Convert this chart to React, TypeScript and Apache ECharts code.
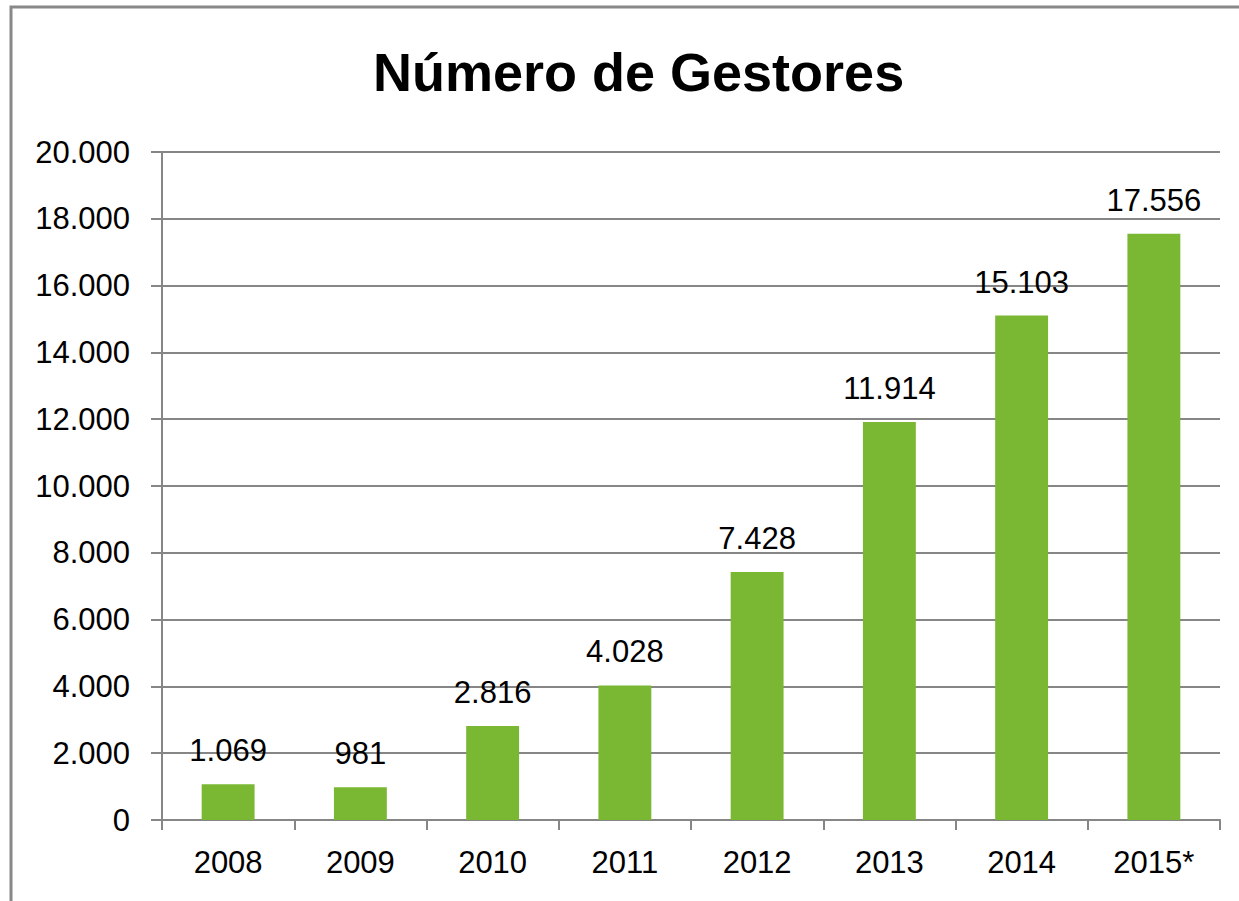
import React, { useEffect, useRef } from "react";
import * as echarts from "echarts";

const categories = ["2008", "2009", "2010", "2011", "2012", "2013", "2014", "2015*"];
const gestores = [1069, 981, 2816, 4028, 7428, 11914, 15103, 17556];
const titleText = "Número de Gestores";

const fmt = (v: number) => String(v).replace(/\B(?=(\d{3})+(?!\d))/g, ".");

export default function App() {
  const ref = useRef<HTMLDivElement>(null);
  useEffect(() => {
    document.body.style.margin = "0";
    const chart = echarts.init(ref.current!, null, { renderer: "svg" });
    const font = "'Liberation Sans', Arial, sans-serif";
    chart.setOption({
      animation: false,
      backgroundColor: "#ffffff",
      textStyle: { fontFamily: font },
      title: {
        text: titleText,
        left: 368,
        top: 40,
        textStyle: { fontFamily: font, fontSize: 54, fontWeight: "bold", color: "#000000" },
      },
      graphic: [
        {
          type: "rect",
          shape: { x: 11, y: 7, width: 1300, height: 1000 },
          style: { fill: "none", stroke: "#888888", lineWidth: 3 },
          silent: true,
        },
      ],
      grid: { left: 162, right: 19, top: 152, bottom: 81, containLabel: false },
      xAxis: {
        type: "category",
        data: categories,
        boundaryGap: true,
        axisLine: { show: true, lineStyle: { color: "#868686", width: 2 } },
        axisTick: { show: true, length: 10, lineStyle: { color: "#868686", width: 2 } },
        axisLabel: { color: "#000000", fontSize: 31, fontFamily: font, margin: 27 },
        splitLine: { show: false },
      },
      yAxis: {
        type: "value",
        min: 0,
        max: 20000,
        interval: 2000,
        axisLine: { show: true, lineStyle: { color: "#868686", width: 2 } },
        axisTick: { show: true, length: 11, lineStyle: { color: "#868686", width: 2 } },
        axisLabel: {
          color: "#000000",
          fontSize: 31,
          fontFamily: font,
          margin: 32,
          formatter: (v: number) => fmt(v),
        },
        splitLine: { show: true, lineStyle: { color: "#868686", width: 2 } },
      },
      series: [
        {
          type: "bar",
          data: gestores,
          barWidth: "40%",
          itemStyle: { color: "#7AB733" },
          label: {
            show: true,
            position: "top",
            distance: 18,
            color: "#000000",
            fontSize: 31,
            fontFamily: font,
            formatter: (p: any) => fmt(p.value),
          },
        },
      ],
    });
    return () => chart.dispose();
  }, []);
  return <div ref={ref} style={{ width: 1239, height: 901 }} />;
}
